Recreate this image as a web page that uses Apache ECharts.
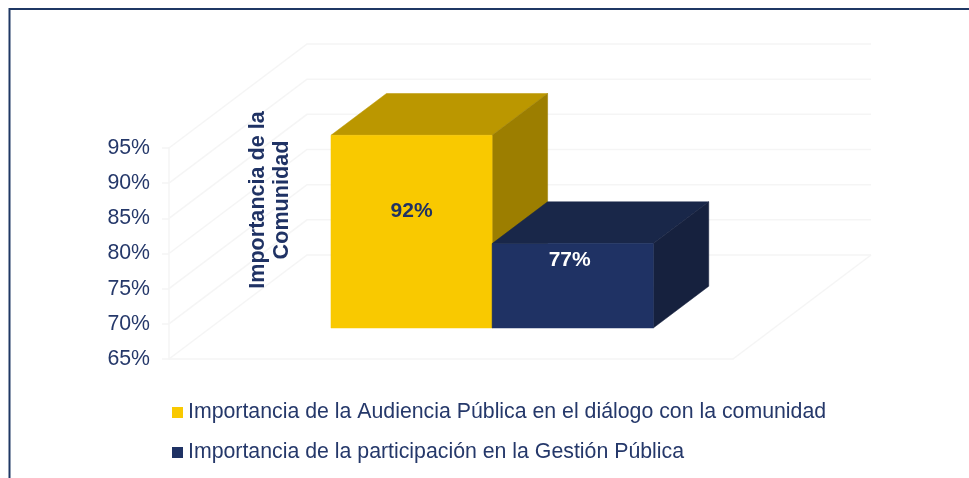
<!DOCTYPE html>
<html lang="es">
<head>
<meta charset="utf-8">
<title>Importancia de la Comunidad</title>
<script src="https://cdn.jsdelivr.net/npm/echarts@6/dist/echarts.min.js"></script>
<style>html,body{margin:0;padding:0;background:#fff}#c{width:969px;height:478px}</style>
</head>
<body>
<div id="c"></div>
<script>
const categories = ['Importancia de la\nComunidad'];
const seriesNames = [
  'Importancia de la Audiencia Pública en el diálogo con la comunidad',
  'Importancia de la participación en la Gestión Pública'
];
const audienciaValues = [92.4];
const participacionValues = [77];
const yTicks = [65, 70, 75, 80, 85, 90, 95];

const FONT = '"Liberation Sans", Arial, sans-serif';
const TEXT = '#25386A';
const BOLD_TEXT = '#1F3264';
const GRID = '#F5F5F5';
const FLOOR_DX = 138, FLOOR_DY = -104;
const FRONT = 0.298, BACK = 0.7;
const GAP = 1.5;

function wallItem(params, api) {
  const cs = params.coordSys;
  const tick = api.value(0);
  const y = api.coord([0, tick])[1];
  const x0 = cs.x, x1 = cs.x + cs.width;
  const style = { stroke: GRID, lineWidth: 1.5, fill: null };
  const children = [{
    type: 'polyline',
    shape: { points: [[x0, y], [x0 + FLOOR_DX, y + FLOOR_DY], [x1 + FLOOR_DX, y + FLOOR_DY]] },
    style
  }];
  if (tick === yTicks[0]) {
    children.push({
      type: 'polyline',
      shape: { points: [[x1, y], [x1 + FLOOR_DX, y + FLOOR_DY]] },
      style
    });
  }
  return { type: 'group', silent: true, children };
}

function barRenderer(slot, colors, labelColor, labelDx, labelDy) {
  return function (params, api) {
    const band = api.size([1, 0])[0];
    const w = band / (2 + GAP);
    const idx = api.value(0), val = api.value(1);
    const c = api.coord([idx, val]);
    const base = api.coord([idx, yTicks[0]]);
    const fx = FLOOR_DX * FRONT, fy = FLOOR_DY * FRONT;
    const dx = FLOOR_DX * (BACK - FRONT), dy = FLOOR_DY * (BACK - FRONT);
    const L = c[0] - w + slot * w + fx, R = L + w;
    const T = c[1] + fy, B = base[1] + fy;
    const poly = (pts, fill) => ({
      type: 'polygon', shape: { points: pts },
      style: { fill, stroke: fill, lineWidth: 0.5 }
    });
    return {
      type: 'group',
      children: [
        poly([[L, T], [R, T], [R + dx, T + dy], [L + dx, T + dy]], colors.top),
        poly([[R, T], [R + dx, T + dy], [R + dx, B + dy], [R, B]], colors.side),
        poly([[L, T], [R, T], [R, B], [L, B]], colors.front),
        {
          type: 'text',
          style: {
            x: (L + R) / 2 + labelDx,
            y: (T + B) / 2 + labelDy,
            text: Math.round(val) + '%',
            fill: labelColor,
            font: 'bold 21px ' + FONT,
            textAlign: 'center',
            textVerticalAlign: 'middle'
          }
        }
      ]
    };
  };
}

const chart = echarts.init(document.getElementById('c'), null, { renderer: 'canvas' });
chart.setOption({
  animation: false,
  backgroundColor: '#fff',
  textStyle: { fontFamily: FONT },
  grid: { left: 169, top: 148, width: 564, height: 211, containLabel: false },
  xAxis: {
    type: 'category',
    data: categories,
    axisLabel: { show: false },
    axisTick: { show: false },
    axisLine: { show: true, lineStyle: { color: GRID, width: 1.5 } }
  },
  yAxis: {
    type: 'value',
    min: 65, max: 95, interval: 5,
    axisLabel: { formatter: '{value}%', fontSize: 21.3, color: TEXT, fontFamily: FONT, margin: 19, padding: [2, 0, 0, 0] },
    axisTick: { show: true, length: 7, lineStyle: { color: GRID, width: 1.5 } },
    axisLine: { show: true, lineStyle: { color: GRID, width: 1.5 } },
    splitLine: { show: false }
  },
  legend: {
    orient: 'vertical',
    left: 167,
    top: 397,
    data: seriesNames,
    icon: 'rect',
    itemWidth: 11,
    itemHeight: 11,
    itemGap: 19,
    selectedMode: false,
    textStyle: { fontSize: 21.3, color: TEXT, fontFamily: FONT }
  },
  graphic: [
    {
      type: 'rect', silent: true, z: -1,
      shape: { x: 9.5, y: 9, width: 1100, height: 700 },
      style: { fill: null, stroke: '#1F3864', lineWidth: 2 }
    },
    {
      type: 'text', silent: true, z: 20,
      x: 270, y: 200, rotation: Math.PI / 2,
      style: {
        text: categories[0], fill: BOLD_TEXT, font: 'bold 21.6px ' + FONT,
        textAlign: 'center', textVerticalAlign: 'middle', lineHeight: 24
      }
    }
  ],
  series: [
    {
      type: 'custom', name: 'Cuadrícula', silent: true, clip: false, z: 1,
      data: yTicks.map(t => [t]),
      encode: { y: 0 },
      renderItem: wallItem
    },
    {
      type: 'custom', name: seriesNames[0], clip: false, z: 2,
      itemStyle: { color: '#F9C900' },
      data: audienciaValues.map((v, i) => [i, v]),
      encode: { x: 0, y: 1 },
      renderItem: barRenderer(0, { front: '#F9C900', top: '#BB9700', side: '#9C7E00' }, BOLD_TEXT, 0, -20)
    },
    {
      type: 'custom', name: seriesNames[1], clip: false, z: 3,
      itemStyle: { color: '#1F3264' },
      data: participacionValues.map((v, i) => [i, v]),
      encode: { x: 0, y: 1 },
      renderItem: barRenderer(1, { front: '#1F3264', top: '#192749', side: '#16213E' }, '#FFFFFF', -3, -26)
    }
  ]
});
</script>
</body>
</html>
